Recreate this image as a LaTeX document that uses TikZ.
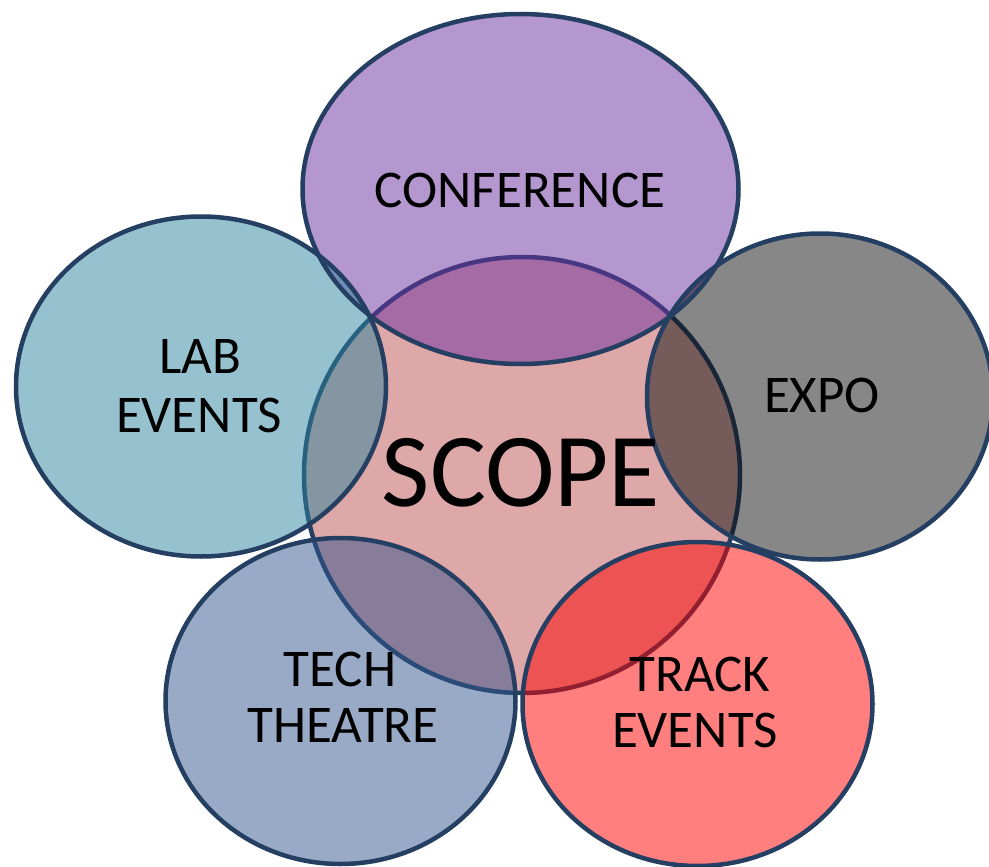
\documentclass[tikz,border=0pt]{standalone}
\usepackage{fontspec}
\setmainfont{Carlito}
\definecolor{bordC}{HTML}{243F62}
\definecolor{scopeC}{HTML}{BD5151}
\definecolor{confC}{HTML}{6B2FA1}
\definecolor{labC}{HTML}{2D859F}
\definecolor{expoC}{HTML}{0F0F0F}
\definecolor{techC}{HTML}{31558D}
\definecolor{trackC}{HTML}{FF0000}
\begin{document}
\begin{tikzpicture}[x=1pt,y=-1pt,
  bord/.style={draw=bordC, line width=4.5pt},
  tint/.style={fill=#1, fill opacity=0.5},
  lbl/.style={anchor=base, inner sep=0pt, font=\fontsize{53}{59}\selectfont, text=black}]
\useasboundingbox (0,0) rectangle (989,867);
% central circle
\path[tint=scopeC] (522,475) ellipse [x radius=218pt, y radius=218pt];
\draw[bord] (522,475) ellipse [x radius=218pt, y radius=218pt];
% outer fills
\path[tint=confC] (520.5,189) ellipse [x radius=218pt, y radius=175pt];
\path[tint=expoC] (820,396.5) ellipse [x radius=173pt, y radius=163pt];
\path[tint=labC] (201,386.5) ellipse [x radius=185pt, y radius=170pt];
\path[tint=techC] (340.5,701) ellipse [x radius=175pt, y radius=163pt];
\path[tint=trackC] (697.5,704) ellipse [x radius=175pt, y radius=162pt];
% outer borders
\draw[bord] (520.5,189) ellipse [x radius=218pt, y radius=175pt];
\draw[bord] (820,396.5) ellipse [x radius=173pt, y radius=163pt];
\draw[bord] (201,386.5) ellipse [x radius=185pt, y radius=170pt];
\draw[bord] (340.5,701) ellipse [x radius=175pt, y radius=163pt];
\draw[bord] (697.5,704) ellipse [x radius=175pt, y radius=162pt];
% labels
\node[lbl] (conf) at (520,207) {CONFERENCE};
\node[lbl, font=\fontsize{105}{120}\selectfont] (scope) at (521,506) {SCOPE};
\node[lbl] (lab1) at (200,373) {LAB};
\node[lbl] (lab2) at (199,432) {EVENTS};
\node[lbl] (expo) at (822,412) {EXPO};
\node[lbl] (tech1) at (340,686) {TECH};
\node[lbl] (tech2) at (343,742) {THEATRE};
\node[lbl] (track1) at (700,691) {TRACK};
\node[lbl] (track2) at (695,747) {EVENTS};
\end{tikzpicture}
\end{document}
